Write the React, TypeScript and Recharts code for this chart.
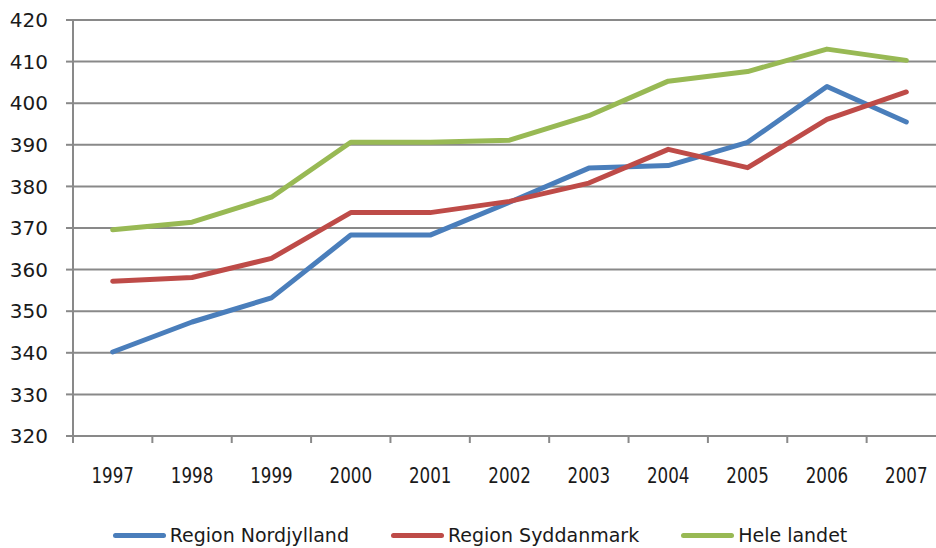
import { LineChart, Line, XAxis, YAxis, CartesianGrid } from 'recharts';

const years = ['1997', '1998', '1999', '2000', '2001', '2002', '2003', '2004', '2005', '2006', '2007'];
const nordjylland = [340.2, 347.4, 353.2, 368.3, 368.3, 376.2, 384.4, 385.0, 390.6, 404.0, 395.5];
const syddanmark = [357.2, 358.1, 362.7, 373.7, 373.7, 376.4, 380.8, 388.9, 384.5, 396.1, 402.7];
const heleLandet = [369.6, 371.4, 377.4, 390.6, 390.6, 391.1, 397.0, 405.3, 407.6, 413.0, 410.3];
const yTicks = [320, 330, 340, 350, 360, 370, 380, 390, 400, 410, 420];
const boundaryTicks = [0, 1, 2, 3, 4, 5, 6, 7, 8, 9, 10, 11];

const series = [
  { key: 'nord', name: 'Region Nordjylland', color: '#4a7ebb', values: nordjylland },
  { key: 'syd', name: 'Region Syddanmark', color: '#be4b48', values: syddanmark },
  { key: 'hele', name: 'Hele landet', color: '#98b954', values: heleLandet },
];

const data = years.map((year, i) => ({
  year,
  slot: i + 0.5,
  nord: nordjylland[i],
  syd: syddanmark[i],
  hele: heleLandet[i],
}));

const gray = '#898989';

// narrow year labels, squeezed horizontally like the original
const YearTick = ({ x, y, payload }: any) => (
  <text
    transform={`translate(${x},${y}) scale(0.76,1)`}
    textAnchor="middle"
    dy="0.71em"
    fill="#1a1a1a"
    fontSize={22}
    fontFamily='"DejaVu Sans", sans-serif'
  >
    {payload.value}
  </text>
);

export default function App() {
  return (
    <div style={{ position: 'absolute', left: 0, top: 0, width: 936, height: 548, overflow: 'hidden', background: '#fff' }}>
      <LineChart width={946} height={548} data={data} margin={{ top: 20, right: 0, left: 0, bottom: 52 }}>
        <CartesianGrid vertical={false} stroke={gray} strokeWidth={2} />
        <XAxis
          xAxisId="bounds"
          dataKey="slot"
          type="number"
          domain={[0, 11]}
          ticks={boundaryTicks}
          tickFormatter={() => ''}
          tickSize={7}
          height={1}
          stroke={gray}
          strokeWidth={2}
          allowDataOverflow
        />
        <XAxis
          xAxisId="years"
          dataKey="year"
          scale="band"
          height={59}
          axisLine={false}
          tickLine={false}
          tickSize={0}
          tickMargin={30}
          interval={0}
          tick={<YearTick />}
        />
        <YAxis
          width={73}
          domain={[320, 420]}
          ticks={yTicks}
          interval={0}
          tickSize={7}
          tickMargin={18}
          stroke={gray}
          strokeWidth={2}
          tick={{ fill: '#1a1a1a', fontSize: 20, fontFamily: '"DejaVu Sans", sans-serif' }}
        />
        {series.map((s) => (
          <Line
            key={s.key}
            xAxisId="years"
            dataKey={s.key}
            name={s.name}
            stroke={s.color}
            strokeWidth={5}
            strokeLinejoin="round"
            strokeLinecap="round"
            dot={false}
            activeDot={false}
            isAnimationActive={false}
          />
        ))}
      </LineChart>
      <div
        style={{
          position: 'absolute',
          left: 0,
          top: 522,
          width: 960,
          height: 26,
          display: 'flex',
          justifyContent: 'center',
          alignItems: 'center',
          gap: 42,
          fontFamily: '"DejaVu Sans", sans-serif',
          fontSize: 19,
          color: '#1a1a1a',
        }}
      >
        {series.map((s) => (
          <div key={s.key} style={{ display: 'flex', alignItems: 'center' }}>
            <div style={{ width: 53, height: 5, borderRadius: 3, background: s.color, marginRight: 4 }} />
            <span>{s.name}</span>
          </div>
        ))}
      </div>
    </div>
  );
}
